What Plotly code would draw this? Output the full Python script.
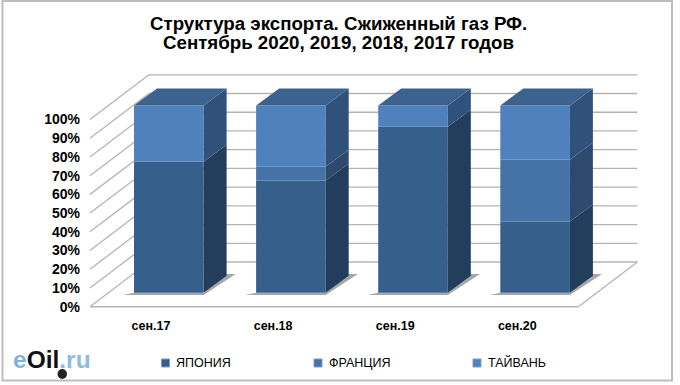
import numpy as np
import plotly.graph_objects as go

categories = ["сен.17", "сен.18", "сен.19", "сен.20"]
japan = [70.0, 60.0, 88.6, 38.0]
france = [0.0, 7.3, 0.0, 33.0]
taiwan = [30.0, 32.7, 11.4, 29.0]
series_names = ["ЯПОНИЯ", "ФРАНЦИЯ", "ТАЙВАНЬ"]
y_ticks = list(range(0, 101, 10))
title_lines = ["Структура экспорта. Сжиженный газ РФ.", "Сентябрь 2020, 2019, 2018, 2017 годов"]

front_colors = ["#375F8C", "#4572A7", "#4F81BD"]
side_colors = ["#233D5C", "#2D4A6E", "#30527A"]
top_color = "#3C6390"
FONT = "Liberation Sans"
GRID = "#B4B4B4"

W, H = 680, 385
ML, MR, MT, MB = 81, 4, 0, 69
PX_CAT, PX_PCT = 122.1, 1.872
X0_PX, Y0_PX = 151.0, 306.7          # px of category 0 and of 0 % on the front floor edge
plot_w, plot_h = W - ML - MR, H - MT - MB


def xpx(p):
    return (p - X0_PX) / PX_CAT


def ypx(p):
    return (Y0_PX - p) / PX_PCT


def px_x(p):
    return (p - ML) / plot_w


def px_y(p):
    return (H - p - MB) / plot_h


# oblique projection constants, in axis units
wall_dx, wall_dy = 59 / PX_CAT, 44.7 / PX_PCT
lift = 14.0 / PX_PCT
bar_w = 69.6 / PX_CAT
bar_off = -17.0 / PX_CAT
side_dx, side_dy = 23.0 / PX_CAT, 17.0 / PX_PCT

pos = np.arange(len(categories), dtype=float)
values = [np.array(japan), np.array(france), np.array(taiwan)]
bases = [np.zeros(4)]
for v in values[:-1]:
    bases.append(bases[-1] + v)

fig = go.Figure()

# front faces
for name, v, b, c in zip(series_names, values, bases, front_colors):
    fig.add_trace(go.Bar(x=pos, y=v, base=b + lift, name=name, width=bar_w, offset=bar_off,
                         marker=dict(color=c, line=dict(width=0)), showlegend=False))

# side faces
for v, b, c in zip(values, bases, side_colors):
    for p, vi, bi in zip(pos, v, b):
        if vi <= 0:
            continue
        r = p + bar_off + bar_w
        lo, hi = bi + lift, bi + vi + lift
        fig.add_trace(go.Scatter(x=[r, r, r + side_dx, r + side_dx, r],
                                 y=[lo, hi, hi + side_dy, lo + side_dy, lo],
                                 mode="lines", fill="toself", fillcolor=c,
                                 line=dict(width=0), hoverinfo="skip", showlegend=False))

# top faces
totals = bases[-1] + values[-1]
for p, t in zip(pos, totals):
    l = p + bar_off
    r = l + bar_w
    hi = t + lift
    fig.add_trace(go.Scatter(x=[l, r, r + side_dx, l + side_dx, l],
                             y=[hi, hi, hi + side_dy, hi + side_dy, hi],
                             mode="lines", fill="toself", fillcolor=top_color,
                             line=dict(width=0), hoverinfo="skip", showlegend=False))

shapes = []
left_x = pos[0] - 0.5
right_x = pos[-1] + 0.5
for t in y_ticks:
    # left wall and back wall
    shapes.append(dict(type="line", layer="below", xref="x", yref="y", x0=left_x, y0=t,
                       x1=left_x + wall_dx, y1=t + wall_dy, line=dict(color=GRID, width=1.3)))
    shapes.append(dict(type="line", layer="below", xref="x", yref="y", x0=left_x + wall_dx, y0=t + wall_dy,
                       x1=right_x + wall_dx, y1=t + wall_dy, line=dict(color=GRID, width=1.3)))
# floor
shapes.append(dict(type="line", layer="below", xref="x", yref="y", x0=left_x, y0=0,
                   x1=right_x, y1=0, line=dict(color=GRID, width=1.6)))
shapes.append(dict(type="line", layer="below", xref="x", yref="y", x0=right_x, y0=0,
                   x1=right_x + wall_dx, y1=wall_dy, line=dict(color=GRID, width=1.3)))
# bar shadows on the floor
for p in pos:
    l = p + bar_off
    r = l + bar_w
    sx = side_dx * 1.4
    sy = side_dy * 1.1
    path = (f"M{l - 11 / PX_CAT},{lift - 1.2} L{r},{lift - 1.2} L{r + sx},{lift + sy} "
            f"L{r + sx - 12 / PX_CAT},{lift + sy} L{r},{lift} L{l},{lift} Z")
    shapes.append(dict(type="path", layer="below", xref="x", yref="y", path=path,
                       fillcolor="rgba(120,120,120,0.65)", line=dict(width=0)))

# outer frame
shapes.append(dict(type="rect", xref="paper", yref="paper", layer="below",
                   x0=px_x(2.5), x1=px_x(672), y0=px_y(380.5), y1=px_y(1),
                   line=dict(color="#BDBDBD", width=2)))

annotations = []
# title
for line, cy in zip(title_lines, [23, 43]):
    annotations.append(dict(text=line, xref="paper", yref="paper", xanchor="center", yanchor="middle",
                            x=px_x(338.5), y=px_y(cy), showarrow=False,
                            font=dict(family=FONT, size=18.7, weight=700, color="#000000")))

# legend
for name, c, mx in zip(series_names, front_colors, [165.5, 318, 477]):
    shapes.append(dict(type="rect", xref="paper", yref="paper", x0=px_x(mx - 4), x1=px_x(mx + 4),
                       y0=px_y(367), y1=px_y(359),
                       fillcolor=c, line=dict(color="#7F9CC4", width=1)))
    annotations.append(dict(text=name, xref="paper", yref="paper", xanchor="left", yanchor="middle",
                            x=px_x(mx + 8.5), y=px_y(363), showarrow=False,
                            font=dict(family=FONT, size=12.5, color="#000000")))

# logo
annotations.append(dict(
    text='<span style="color:#7FB2DD">e</span><span style="color:#111111">Oil</span>'
         '<span style="color:#8DBBE2">.ru</span>',
    xref="paper", yref="paper", xanchor="left", yanchor="middle",
    x=px_x(10.5), y=px_y(359), showarrow=False,
    font=dict(family=FONT, size=24.5, weight=700)))
shapes.append(dict(type="circle", xref="paper", yref="paper", x0=px_x(57.5), x1=px_x(67),
                   y0=px_y(379), y1=px_y(369),
                   fillcolor="#222222", line=dict(width=0)))

fig.update_layout(
    width=W, height=H, margin=dict(l=ML, r=MR, t=MT, b=MB, pad=0),
    autosize=False, paper_bgcolor="white", plot_bgcolor="rgba(0,0,0,0)",
    barmode="overlay", showlegend=False, shapes=shapes, annotations=annotations,
    xaxis=dict(range=[xpx(ML), xpx(W - MR)], tickmode="array", tickvals=pos, ticktext=categories,
               showgrid=False, zeroline=False, showline=False, ticks="",
               tickfont=dict(family=FONT, size=12.5, weight=700, color="#000000")),
    yaxis=dict(range=[ypx(H - MB), ypx(MT)], tickmode="array", tickvals=y_ticks,
               ticktext=[f"{t}%" for t in y_ticks],
               showgrid=False, zeroline=False, showline=False, ticks="",
               tickfont=dict(family=FONT, size=14, weight=700, color="#000000")),
)

fig.write_html("out.html", post_script="document.body.style.margin='0';",
               config={"displayModeBar": False})
